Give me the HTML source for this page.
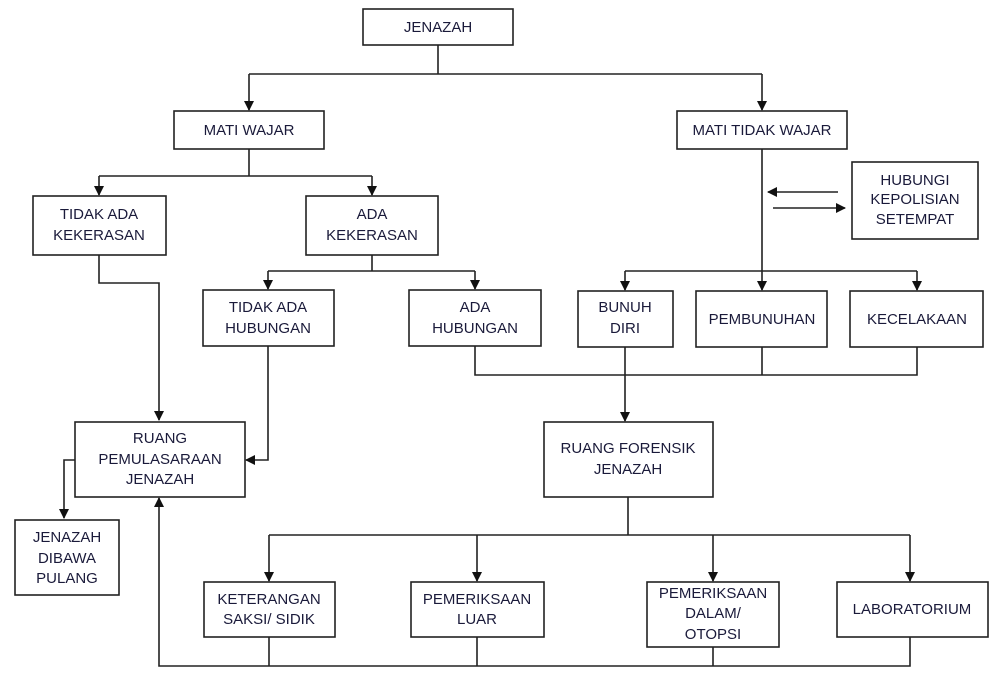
<!DOCTYPE html>
<html><head><meta charset="utf-8"><style>
html,body{margin:0;padding:0;background:#fff;}
svg{display:block;}
text{font-family:"Liberation Sans",Arial,sans-serif;font-size:15px;fill:#1a1a3a;text-anchor:middle;}
rect{fill:#fff;stroke:#222;stroke-width:1.6;}
.l{stroke:#222;stroke-width:1.6;fill:none;}
</style></head><body>
<svg width="1000" height="678" viewBox="0 0 1000 678">
<defs><marker id="a" markerWidth="10" markerHeight="10" refX="9" refY="5" orient="auto" markerUnits="userSpaceOnUse"><path d="M0,0 L10,5 L0,10 z" fill="#111"/></marker></defs>
<!-- connectors -->
<path class="l" d="M438,45 V74 M249,74 H762"/>
<path class="l" d="M249,74 V110" marker-end="url(#a)"/>
<path class="l" d="M762,74 V110" marker-end="url(#a)"/>
<path class="l" d="M249,149 V176 M99,176 H372"/>
<path class="l" d="M99,176 V195" marker-end="url(#a)"/>
<path class="l" d="M372,176 V195" marker-end="url(#a)"/>
<path class="l" d="M372,255 V271 M268,271 H475"/>
<path class="l" d="M268,271 V289" marker-end="url(#a)"/>
<path class="l" d="M475,271 V289" marker-end="url(#a)"/>
<path class="l" d="M99,255 V283 H159 V420" marker-end="url(#a)"/>
<path class="l" d="M268,346 V460 H246" marker-end="url(#a)"/>
<path class="l" d="M75,460 H64 V518" marker-end="url(#a)"/>
<path class="l" d="M762,149 V290" marker-end="url(#a)"/>
<path class="l" d="M625,271 H917"/>
<path class="l" d="M625,271 V290" marker-end="url(#a)"/>
<path class="l" d="M917,271 V290" marker-end="url(#a)"/>
<path class="l" d="M838,192 H768" marker-end="url(#a)"/>
<path class="l" d="M773,208 H845" marker-end="url(#a)"/>
<path class="l" d="M475,346 V375 H917 V347 M762,347 V375"/>
<path class="l" d="M625,347 V421" marker-end="url(#a)"/>
<path class="l" d="M628,497 V535 M269,535 H910"/>
<path class="l" d="M269,535 V581" marker-end="url(#a)"/>
<path class="l" d="M477,535 V581" marker-end="url(#a)"/>
<path class="l" d="M713,535 V581" marker-end="url(#a)"/>
<path class="l" d="M910,535 V581" marker-end="url(#a)"/>
<path class="l" d="M269,637 V666 M477,637 V666 M713,647 V666 M910,637 V666 H159 V498" marker-end="url(#a)"/>
<!-- boxes -->
<rect x="363" y="9" width="150" height="36"/><text x="438" y="32">JENAZAH</text>
<rect x="174" y="111" width="150" height="38"/><text x="249" y="135">MATI WAJAR</text>
<rect x="677" y="111" width="170" height="38"/><text x="762" y="135">MATI TIDAK WAJAR</text>
<rect x="33" y="196" width="133" height="59"/><text x="99" y="219">TIDAK ADA</text><text x="99" y="240">KEKERASAN</text>
<rect x="306" y="196" width="132" height="59"/><text x="372" y="219">ADA</text><text x="372" y="240">KEKERASAN</text>
<rect x="852" y="162" width="126" height="77"/><text x="915" y="185">HUBUNGI</text><text x="915" y="204">KEPOLISIAN</text><text x="915" y="224">SETEMPAT</text>
<rect x="203" y="290" width="131" height="56"/><text x="268" y="312">TIDAK ADA</text><text x="268" y="333">HUBUNGAN</text>
<rect x="409" y="290" width="132" height="56"/><text x="475" y="312">ADA</text><text x="475" y="333">HUBUNGAN</text>
<rect x="578" y="291" width="95" height="56"/><text x="625" y="312">BUNUH</text><text x="625" y="333">DIRI</text>
<rect x="696" y="291" width="131" height="56"/><text x="762" y="324">PEMBUNUHAN</text>
<rect x="850" y="291" width="133" height="56"/><text x="917" y="324">KECELAKAAN</text>
<rect x="75" y="422" width="170" height="75"/><text x="160" y="443">RUANG</text><text x="160" y="464">PEMULASARAAN</text><text x="160" y="484">JENAZAH</text>
<rect x="544" y="422" width="169" height="75"/><text x="628" y="453">RUANG FORENSIK</text><text x="628" y="474">JENAZAH</text>
<rect x="15" y="520" width="104" height="75"/><text x="67" y="542">JENAZAH</text><text x="67" y="563">DIBAWA</text><text x="67" y="583">PULANG</text>
<rect x="204" y="582" width="131" height="55"/><text x="269" y="604">KETERANGAN</text><text x="269" y="624">SAKSI/ SIDIK</text>
<rect x="411" y="582" width="133" height="55"/><text x="477" y="604">PEMERIKSAAN</text><text x="477" y="624">LUAR</text>
<rect x="647" y="582" width="132" height="65"/><text x="713" y="598">PEMERIKSAAN</text><text x="713" y="618">DALAM/</text><text x="713" y="639">OTOPSI</text>
<rect x="837" y="582" width="151" height="55"/><text x="912" y="614">LABORATORIUM</text>
</svg>
</body></html>
